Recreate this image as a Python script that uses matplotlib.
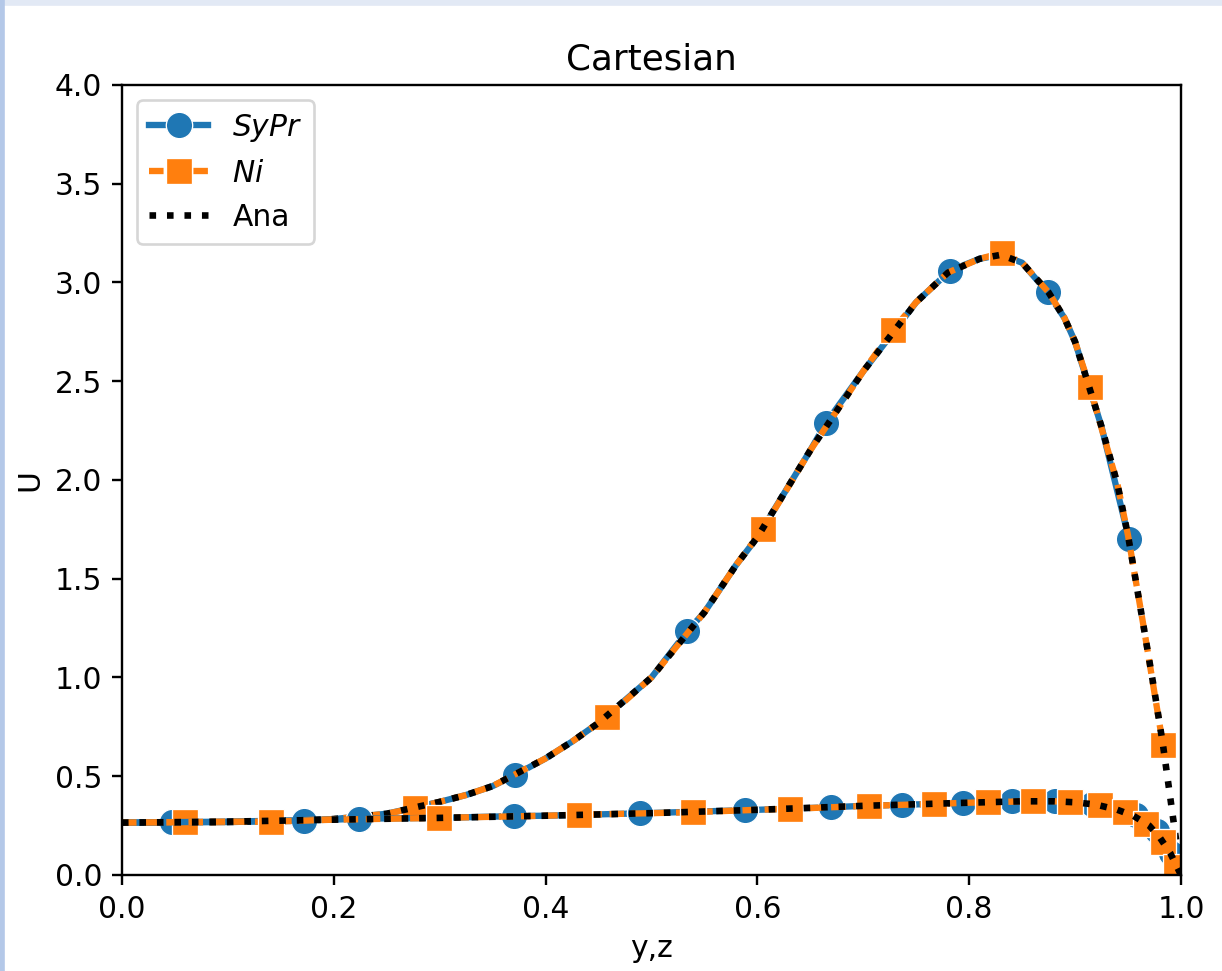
import numpy as np
import matplotlib.pyplot as plt
from matplotlib.patches import Rectangle

# analytical profiles (upper = peaked curve, lower = flat curve)
ana_up_x = [0.0, 0.05, 0.10, 0.15, 0.20, 0.25, 0.30, 0.325, 0.35, 0.40, 0.425, 0.45,
            0.50, 0.55, 0.58, 0.60, 0.65, 0.70, 0.75, 0.78, 0.81, 0.83, 0.85, 0.875,
            0.89, 0.90, 0.925, 0.94, 0.95, 0.965, 0.975, 0.983, 1.0]
ana_up_u = [0.265, 0.266, 0.268, 0.273, 0.283, 0.31, 0.37, 0.405, 0.45, 0.59, 0.675, 0.77,
            1.0, 1.33, 1.57, 1.71, 2.15, 2.55, 2.90, 3.05, 3.12, 3.14, 3.10, 2.95,
            2.82, 2.70, 2.27, 1.98, 1.72, 1.25, 0.93, 0.66, 0.0]
ana_lo_x = [0.0, 0.10, 0.20, 0.30, 0.40, 0.50, 0.60, 0.70, 0.80, 0.85, 0.88, 0.90,
            0.92, 0.94, 0.955, 0.97, 0.98, 0.99, 1.0]
ana_lo_u = [0.265, 0.27, 0.28, 0.289, 0.30, 0.313, 0.33, 0.35, 0.366, 0.373, 0.373, 0.368,
            0.356, 0.33, 0.30, 0.25, 0.19, 0.11, 0.0]

# SyPr samples
sypr_up_x = [0.047, 0.172, 0.371, 0.534, 0.665, 0.782, 0.874, 0.951]
sypr_up_u = [0.266, 0.274, 0.506, 1.235, 2.29, 3.06, 2.95, 1.70]
sypr_lo_x = [0.224, 0.370, 0.489, 0.588, 0.670, 0.737, 0.794, 0.840, 0.881, 0.916,
             0.958, 0.977, 0.991]
sypr_lo_u = [0.285, 0.298, 0.312, 0.328, 0.343, 0.355, 0.365, 0.372, 0.373, 0.360,
             0.305, 0.225, 0.11]

# Ni samples
ni_up_x = [0.060, 0.277, 0.458, 0.605, 0.728, 0.831, 0.914, 0.983]
ni_up_u = [0.266, 0.34, 0.80, 1.75, 2.76, 3.15, 2.47, 0.66]
ni_lo_x = [0.141, 0.299, 0.432, 0.539, 0.631, 0.705, 0.767, 0.818, 0.860, 0.895,
           0.924, 0.947, 0.967, 0.983, 0.995]
ni_lo_u = [0.27, 0.289, 0.305, 0.318, 0.335, 0.35, 0.36, 0.368, 0.374, 0.37,
           0.355, 0.32, 0.258, 0.167, 0.04]


def full_line(mx, mu, ax_, au_):
    # marker samples joined with the analytic points lying between them
    mx, mu = np.asarray(mx), np.asarray(mu)
    ax_, au_ = np.asarray(ax_), np.asarray(au_)
    keep = ax_ <= mx.max()
    keep &= np.min(np.abs(ax_[:, None] - mx[None, :]), axis=1) > 0.012
    x = np.concatenate([mx, ax_[keep]])
    u = np.concatenate([mu, au_[keep]])
    mask = np.concatenate([np.ones(len(mx), bool), np.zeros(keep.sum(), bool)])
    order = np.argsort(x)
    return x[order], u[order], mask[order]


sc = 1.13
plt.rcParams.update({
    'font.size': 10 * sc,
    'axes.linewidth': 0.8 * sc,
    'xtick.major.width': 0.8 * sc,
    'ytick.major.width': 0.8 * sc,
    'xtick.major.size': 3.5 * sc,
    'ytick.major.size': 3.5 * sc,
})

fig = plt.figure(figsize=(1222 / 190, 971 / 190), dpi=190)
ax = fig.add_axes([0.0998, 0.0989, 0.8666, 0.8136])

blue = '#1f77b4'
orange = '#ff7f0e'

for i, (sx, su, nx, nu, axx, auu) in enumerate([
        (sypr_up_x, sypr_up_u, ni_up_x, ni_up_u, ana_up_x, ana_up_u),
        (sypr_lo_x, sypr_lo_u, ni_lo_x, ni_lo_u, ana_lo_x, ana_lo_u)]):
    x, u, m = full_line(sx, su, axx, auu)
    ax.plot(x, u, '-', color=blue, lw=2.4, marker='o', ms=10, markevery=list(m),
            mec='white', mew=0.5, label='$SyPr$' if i == 0 else None)
    x, u, m = full_line(nx, nu, axx, auu)
    ax.plot(x, u, color=orange, lw=2.4, ls=(0, (2.3, 1.2)), marker='s', ms=10,
            markevery=list(m), mec='white', mew=0.5,
            label='$Ni$' if i == 0 else None)
    ax.plot(axx, auu, ':', color='black', lw=2.5, label='Ana' if i == 0 else None)

ax.set_xlim(0, 1)
ax.set_ylim(0, 4)
ax.set_title('Cartesian')
ax.set_xlabel('y,z')
ax.set_ylabel('U')
ax.legend(loc='upper left')

# screenshot frame
fig.patches.append(Rectangle((0, 1 - 4 / 971), 1, 4 / 971, transform=fig.transFigure,
                             color='#e2e9f5', zorder=10))
fig.patches.append(Rectangle((0, 0), 3 / 1222, 1, transform=fig.transFigure,
                             color='#b4c8e8', zorder=10))

fig.savefig('out.png', dpi=190)
